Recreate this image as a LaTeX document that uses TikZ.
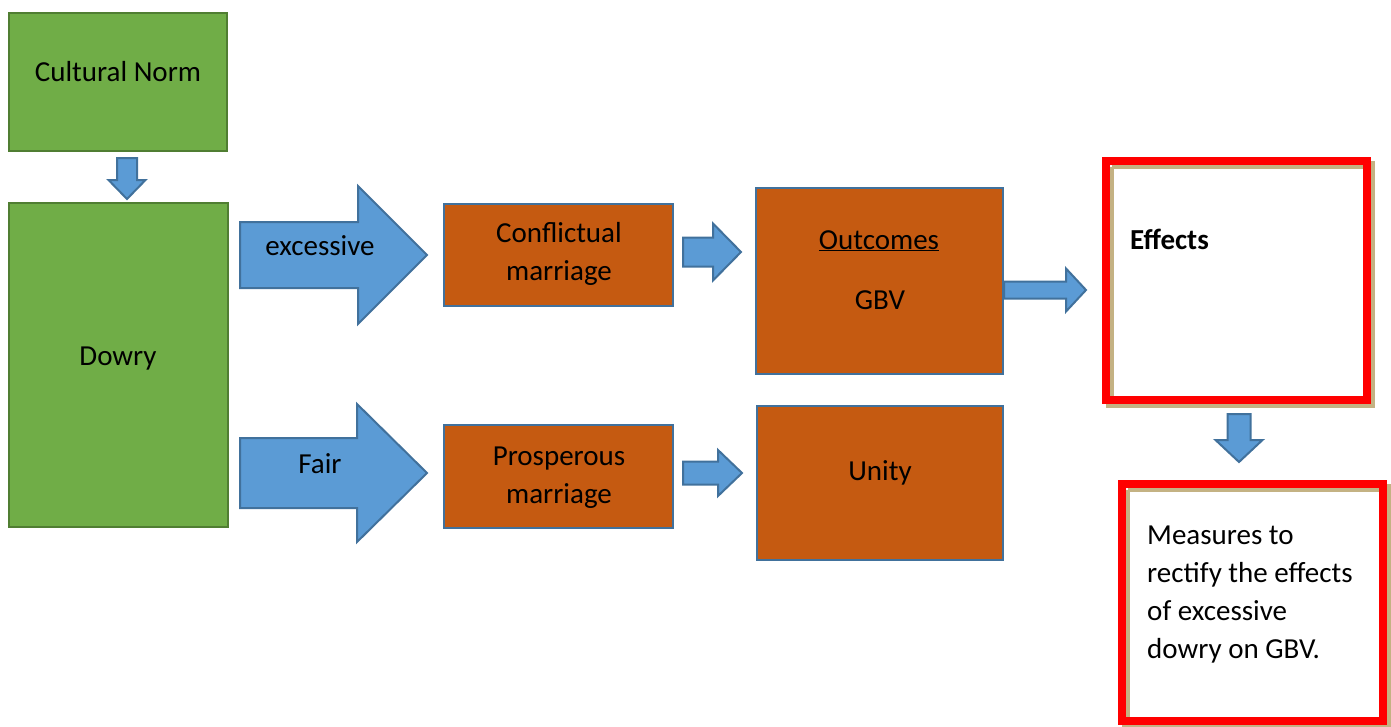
\documentclass[tikz,border=0pt]{standalone}
\usepackage{fontspec}
\setmainfont{Carlito}
\definecolor{gfill}{HTML}{70AD47}
\definecolor{gline}{HTML}{507E32}
\definecolor{ofill}{HTML}{C55A11}
\definecolor{bline}{HTML}{41719C}
\definecolor{afill}{HTML}{5B9BD5}
\definecolor{tanc}{HTML}{C4B283}
\tikzset{
  greenbox/.style={draw=gline, fill=gfill, line width=2, inner sep=0, outer sep=0},
  orangebox/.style={draw=bline, fill=ofill, line width=2, inner sep=0, outer sep=0},
  redbox/.style={draw=red, fill=white, line width=8, inner sep=0, outer sep=0},
  tanbox/.style={draw=tanc, line width=8, inner sep=0, outer sep=0},
  blockarrow/.style={draw=bline, fill=afill, line width=2, line join=miter},
  lbl/.style={font=\fontsize{29}{38}\selectfont, inner sep=0, anchor=base},
  lbll/.style={font=\fontsize{29}{38}\selectfont, inner sep=0, anchor=base west},
}
% right arrow: x0 x1 x2 yc shafthalf headhalf
\newcommand\rarrow[6]{\path[blockarrow] (#1,#4-#5) -- (#2,#4-#5) -- (#2,#4-#6) -- (#3,#4) -- (#2,#4+#6) -- (#2,#4+#5) -- (#1,#4+#5) -- cycle;}
% down arrow: xc y0 y1 y2 shafthalf headhalf
\newcommand\darrow[6]{\path[blockarrow] (#1-#5,#2) -- (#1+#5,#2) -- (#1+#5,#3) -- (#1+#6,#3) -- (#1,#4) -- (#1-#6,#3) -- (#1-#5,#3) -- cycle;}
\begin{document}
\begin{tikzpicture}[x=1pt,y=-1pt]
\useasboundingbox (0,0) rectangle (1391,726);
% boxes
\node[greenbox, minimum width=218, minimum height=138] (cn) at (118,82) {};
\node[greenbox, minimum width=219, minimum height=324] (dowry) at (118.5,365) {};
\node[orangebox, minimum width=229, minimum height=102] (conf) at (558.5,255) {};
\node[orangebox, minimum width=229, minimum height=103] (pros) at (558.5,476.5) {};
\node[orangebox, minimum width=247, minimum height=186] (outc) at (879.5,281) {};
\node[orangebox, minimum width=246, minimum height=154] (unity) at (880,483) {};
\node[tanbox, minimum width=261, minimum height=239] (effsh) at (1240.5,284.5) {};
\node[redbox, minimum width=261, minimum height=239] (eff) at (1236.5,280.5) {};
\node[tanbox, minimum width=261, minimum height=237] (meassh) at (1256.5,606.5) {};
\node[redbox, minimum width=261, minimum height=237] (meas) at (1252.5,602.5) {};
\path[draw=tanc, line width=4] ([xshift=6,yshift=-6]eff.north west) -- ([xshift=-4,yshift=-6]eff.north east);
\path[draw=tanc, line width=4] ([xshift=6,yshift=-6]eff.north west) -- ([xshift=6,yshift=4]eff.south west);
\path[draw=tanc, line width=4] ([xshift=6,yshift=-6]meas.north west) -- ([xshift=-4,yshift=-6]meas.north east);
\path[draw=tanc, line width=4] ([xshift=6,yshift=-6]meas.north west) -- ([xshift=6,yshift=4]meas.south west);
% block arrows
\darrow{127}{158}{180}{199}{10}{18.5}
\rarrow{240}{358}{427}{255}{33}{69}
\rarrow{240}{357}{427}{473}{35}{69}
\rarrow{683}{713}{741}{252}{14.5}{28.5}
\rarrow{683}{718}{742}{473}{11.5}{23}
\rarrow{1004}{1066}{1086}{290}{8.5}{21.5}
\darrow{1239}{414}{440}{462}{11.5}{23.5}
% labels
\node[lbl] (tcn) at (118,81) {Cultural Norm};
\node[lbl] (tdw) at (118,365) {Dowry};
\node[lbl] (tex) at (320,255) {excessive};
\node[lbl] (tfa) at (320,473) {Fair};
\node[lbl] (tc1) at (559,242) {Conflictual};
\node[lbl] (tc2) at (559,280) {marriage};
\node[lbl] (tp1) at (559,465) {Prosperous};
\node[lbl] (tp2) at (559,503) {marriage};
\node[lbl] (tou) at (879,249) {\underline{Outcomes}};
\node[lbl] (tgb) at (880,309) {GBV};
\node[lbl] (tun) at (880,480) {Unity};
\node[lbll] (tef) at (1130,249) {\textbf{Effects}};
\node[lbll] (tm1) at (1147,544) {Measures to};
\node[lbll] (tm2) at (1147,582) {rectify the effects};
\node[lbll] (tm3) at (1147,620) {of excessive};
\node[lbll] (tm4) at (1147,658) {dowry on GBV.};
\end{tikzpicture}
\end{document}
